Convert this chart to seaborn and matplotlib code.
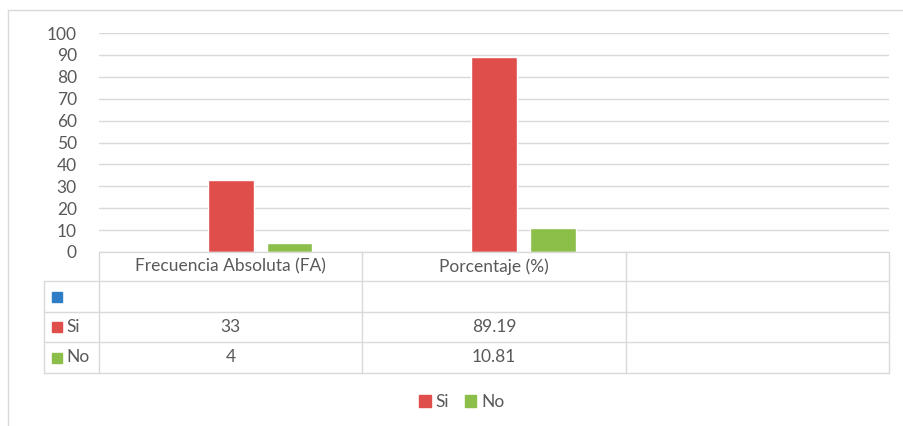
import matplotlib
matplotlib.use("Agg")
import matplotlib.pyplot as plt
import matplotlib.transforms as mtransforms
from matplotlib.lines import Line2D
from matplotlib.patches import Patch, Rectangle
import seaborn as sns
import pandas as pd

# DATA
categories = ["Frecuencia Absoluta (FA)", "Porcentaje (%)", ""]
series = [" ", "Si", "No"]
si_values = [33, 89.19]
no_values = [4, 10.81]
si_labels = ["33", "89.19"]
no_labels = ["4", "10.81"]
y_ticks = [0, 10, 20, 30, 40, 50, 60, 70, 80, 90, 100]

colors = {" ": "#2E7DC6", "Si": "#E04E4B", "No": "#8CBE4A"}
grid_c = "#D9D9D9"
text_c = "#595959"
fs = 12.5

df = pd.DataFrame({
    "categoria": categories[:2] * 2,
    "serie": ["Si"] * 2 + ["No"] * 2,
    "valor": si_values + no_values,
})

sns.set_style("white")
plt.rcParams["font.family"] = ["Lato", "DejaVu Sans"]

W, H = 904, 426
fig = plt.figure(figsize=(W / 100, H / 100), dpi=100)
# plot area in pixels: x 99..889, y 33..252
ax = fig.add_axes([99 / W, (H - 252) / H, 790 / W, 219 / H])

sns.barplot(data=df, x="categoria", y="valor", hue="serie", order=categories,
            hue_order=series, palette=colors, width=0.67, gap=0.22,
            legend=False, ax=ax, saturation=1)

ax.set_xlim(-0.5, 2.5)
ax.set_ylim(0, 100)
ax.set_yticks(y_ticks)
ax.set_yticklabels([str(t) for t in y_ticks], fontsize=fs, color=text_c)
ax.tick_params(axis="y", length=0, pad=16)
ax.set_xticks([])
ax.set_xlabel("")
ax.set_ylabel("")
for s in ax.spines.values():
    s.set_visible(False)
ax.yaxis.grid(True, color=grid_c, linewidth=1)
ax.set_axisbelow(True)

# data table under the plot
trans = mtransforms.blended_transform_factory(ax.transData, ax.transAxes)
px_x = 790 / 3.0   # px per category
px_y = 219.0       # axes height in px
rows_px = [0, 29, 60, 90, 121]
rows = [-r / px_y for r in rows_px]
x_left = -0.5 - 55 / px_x
col_edges = [-0.5, 0.5, 1.5, 2.5]

def hline(x0, x1, y):
    ax.add_line(Line2D([x0, x1], [y, y], transform=trans, color=grid_c,
                       lw=1, clip_on=False))

def vline(x, y0, y1):
    ax.add_line(Line2D([x, x], [y0, y1], transform=trans, color=grid_c,
                       lw=1, clip_on=False))

hline(-0.5, 2.5, rows[0])
for r in rows[1:]:
    hline(x_left, 2.5, r)
for x in col_edges:
    vline(x, rows[0], rows[-1])
vline(x_left, rows[1], rows[-1])

for i, cat in enumerate(categories):
    ax.text(i, (rows[0] + rows[1]) / 2, cat, transform=trans, ha="center",
            va="center", fontsize=fs, color=text_c)

row_names = [series[0], "Si", "No"]
row_vals = [["", ""], si_labels, no_labels]
for k, (name, vals) in enumerate(zip(row_names, row_vals)):
    yc = (rows[k + 1] + rows[k + 2]) / 2
    sq_x = x_left + 8 / px_x
    ax.add_patch(Rectangle((sq_x, yc - 5 / px_y), 10 / px_x, 10 / px_y,
                           transform=trans, color=colors[name], clip_on=False))
    ax.text(sq_x + 14 / px_x, yc, name, transform=trans, ha="left",
            va="center", fontsize=fs, color=text_c)
    for i, v in enumerate(vals):
        ax.text(i, yc, v, transform=trans, ha="center", va="center",
                fontsize=fs, color=text_c)

# chart area frame
fig.add_artist(Line2D([8 / W, 8 / W], [0, (H - 10) / H], color=grid_c, lw=1))
fig.add_artist(Line2D([8 / W, 1], [(H - 10) / H, (H - 10) / H], color=grid_c, lw=1))

handles = [Patch(color=colors["Si"], label="Si"), Patch(color=colors["No"], label="No")]
fig.legend(handles=handles, loc="center", bbox_to_anchor=(462 / W, 24 / H), ncol=2,
           frameon=False, fontsize=fs, handlelength=0.65, handleheight=0.65,
           handletextpad=0.3, columnspacing=0.9, labelcolor=text_c)

fig.savefig("out.png", dpi=100)
